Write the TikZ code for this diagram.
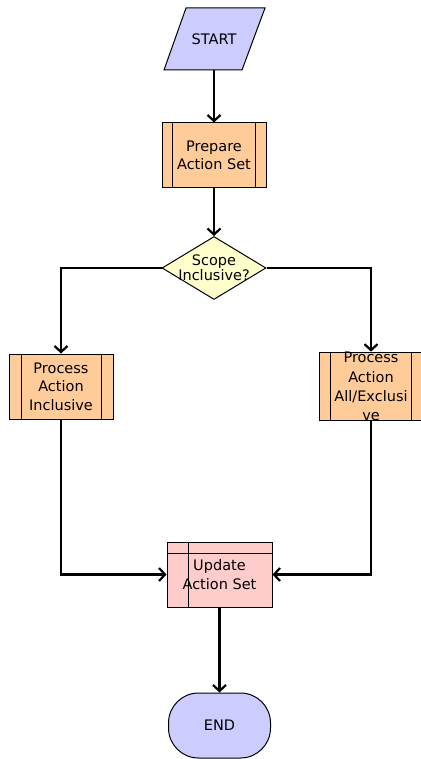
\documentclass[tikz,border=0pt]{standalone}
\usepackage{fontspec}
\setmainfont{DejaVu Sans}
\usetikzlibrary{arrows.meta,shapes.geometric}
\definecolor{lav}{RGB}{204,204,255}
\definecolor{peach}{RGB}{255,204,153}
\definecolor{ylw}{RGB}{255,255,204}
\definecolor{pinkf}{RGB}{255,204,204}
\tikzset{
  txt/.style={font=\fontsize{14.5}{18.5}\selectfont, align=center},
  box/.style={draw=black, line width=1pt, inner sep=0pt, minimum width=104pt, minimum height=65pt, txt},
  conn/.style={line width=2.2pt, -{Straight Barb[length=6pt,width=13pt,line width=2.2pt]}}
}
\begin{document}
\begin{tikzpicture}[x=1pt,y=-1pt]
\useasboundingbox (0,0) rectangle (420,759);
% START parallelogram
\draw[fill=lav, line width=1pt] (186,8) -- (265,8) -- (242,70) -- (164,70) -- cycle;
\node[txt, inner sep=0pt, minimum width=100pt, minimum height=62pt] (start) at (214,39) {START};
% Prepare Action Set
\node[box, fill=peach] (prep) at (214,155.5) {Prepare\\Action Set};
\draw[line width=1pt] ([xshift=11pt]prep.north west) -- ([xshift=11pt]prep.south west)
  ([xshift=-11pt]prep.north east) -- ([xshift=-11pt]prep.south east);
% Decision
\node[diamond, draw=black, line width=1pt, fill=ylw, inner sep=0pt, minimum width=104pt, minimum height=63pt,
  label={[txt, font=\fontsize{14.5}{15}\selectfont]center:Scope\\Inclusive?}] (scope) at (214,268) {};
% Process Action Inclusive
\node[box, fill=peach] (pinc) at (61,386.5) {Process\\Action\\Inclusive};
\draw[line width=1pt] ([xshift=13pt]pinc.north west) -- ([xshift=13pt]pinc.south west)
  ([xshift=-12pt]pinc.north east) -- ([xshift=-12pt]pinc.south east);
% Process Action All/Exclusive
\node[box, fill=peach, font=\fontsize{14.5}{19.3}\selectfont] (pexc) at (371,386.5) {Process\\Action\\All/Exclusi\\ve};
\draw[line width=1pt] ([xshift=12pt]pexc.north west) -- ([xshift=12pt]pexc.south west)
  ([xshift=-12pt]pexc.north east) -- ([xshift=-12pt]pexc.south east);
% Update Action Set
\node[box, fill=pinkf, minimum width=105pt] (upd) at (219.5,574.5) {Update\\Action Set};
\draw[line width=1pt] ([yshift=-12pt]upd.north west) -- ([yshift=-12pt]upd.north east)
  ([xshift=22pt]upd.north west) -- ([xshift=22pt]upd.south west);
% END
\node[draw=black, line width=1pt, fill=lav, rounded corners=30pt, minimum width=102pt, minimum height=65pt, inner sep=0pt, txt] (endn) at (219.5,725.5) {END};
% connectors
\draw[conn] (start.south) -- (prep.north);
\draw[conn] (prep.south) -- (scope.north);
\draw[conn] (scope.west) -| (pinc.north);
\draw[conn] (scope.east) -| (pexc.north);
\draw[conn] (pinc.south) |- (upd.west);
\draw[conn] (pexc.south) |- (upd.east);
\draw[conn] (upd.south) -- (endn.north);
\end{tikzpicture}
\end{document}
